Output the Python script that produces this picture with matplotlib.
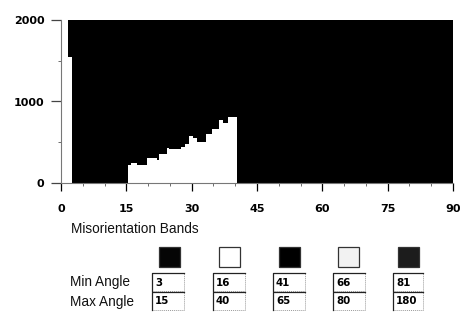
import matplotlib
matplotlib.use("Agg")
import matplotlib.pyplot as plt
from matplotlib.patches import Rectangle
from matplotlib.lines import Line2D
import numpy as np

# ---- data ----
angle_edges = [0, 1.5, 2.6, 15.45, 16.1, 17.5, 19.7, 22.1, 22.4, 24.3, 24.8, 27.5,
               28.4, 29.5, 30.4, 31.3, 33.3, 34.6, 36.3, 37.1, 38.3, 40.3, 90]
counts = [2000, 1550, 0, 221, 249, 221, 303, 280, 352, 426, 413, 438,
          475, 577, 548, 503, 601, 662, 773, 732, 813, 0]
x_ticks = [0, 15, 30, 45, 60, 75, 90]
y_ticks = [0, 1000, 2000]
band_min = [3, 16, 41, 66, 81]
band_max = [15, 40, 65, 80, 180]
band_colors = ['#050505', '#ffffff', '#000000', '#f2f2f2', '#1c1c1c']

W, H = 465, 331
fig = plt.figure(figsize=(W / 100, H / 100), dpi=100)
fig.patch.set_facecolor('white')

def fx(px):
    return px / W

def fy(py):
    return 1 - py / H

ax = fig.add_axes([fx(61), fy(183), fx(453) - fx(61), fy(20) - fy(183)])
ax.set_facecolor('black')
ax.stairs(counts, angle_edges, fill=True, color='white', baseline=0)
ax.set_xlim(0, 90)
ax.set_ylim(0, 2000)

for s in ['top', 'right']:
    ax.spines[s].set_visible(False)
for s in ['left', 'bottom']:
    ax.spines[s].set_color('#777777')
    ax.spines[s].set_linestyle((0, (1, 1)))
    ax.spines[s].set_linewidth(0.8)

ax.set_xticks(x_ticks)
ax.set_xticks(np.arange(0, 91, 5), minor=True)
ax.set_yticks(y_ticks)
ax.set_yticks([500, 1500], minor=True)
bold = dict(family='DejaVu Sans', weight='bold', size=8)
ax.set_xticklabels([str(v) for v in x_ticks], fontdict=bold)
ax.set_yticklabels([str(v) for v in y_ticks], fontdict=bold)
ax.tick_params(axis='x', which='major', length=6, width=0.9, color='black', pad=9, direction='out')
ax.tick_params(axis='x', which='minor', length=2, width=0.6, color='#555555', direction='out')
ax.tick_params(axis='y', which='major', length=7, width=0.9, color='#444444', pad=5, direction='out')
ax.tick_params(axis='y', which='minor', length=2, width=0.6, color='#555555', direction='out')

# ---- legend panel ----
reg = dict(family='Liberation Sans', size=9.8, color='#111111')
fig.text(fx(71), fy(229), 'Misorientation Bands', ha='left', va='center', **reg)
fig.text(fx(70), fy(282), 'Min Angle', ha='left', va='center', **reg)
fig.text(fx(70), fy(302), 'Max Angle', ha='left', va='center', **reg)

sw_left = [159, 219, 279, 338, 398]
box_left = [152, 213, 273, 333, 393]
for i in range(len(band_min)):
    # swatch
    fig.patches.append(Rectangle((fx(sw_left[i]), fy(267)), fx(21), fy(0) - fy(20),
                                 transform=fig.transFigure, facecolor=band_colors[i],
                                 edgecolor='#333333', linewidth=0.9))
    # min / max boxes
    for (top, val) in [(273, band_min[i]), (292, band_max[i])]:
        bw = 32 if i < 4 else 30
        fig.patches.append(Rectangle((fx(box_left[i]), fy(top + 18)), fx(bw), fy(0) - fy(18),
                                     transform=fig.transFigure, facecolor='white',
                                     edgecolor='#9a9a9a', linewidth=0.7, linestyle=(0, (1, 1))))
        fig.lines.append(Line2D([fx(box_left[i]), fx(box_left[i]), fx(box_left[i] + bw)],
                                [fy(top + 18), fy(top), fy(top)], transform=fig.transFigure,
                                color='#222222', linewidth=0.9))
        fig.text(fx(box_left[i] + 3), fy(top + 9.5), str(val), ha='left', va='center',
                 family='DejaVu Sans', weight='bold', size=7.4, color='black')

fig.savefig('out.png', dpi=100)
